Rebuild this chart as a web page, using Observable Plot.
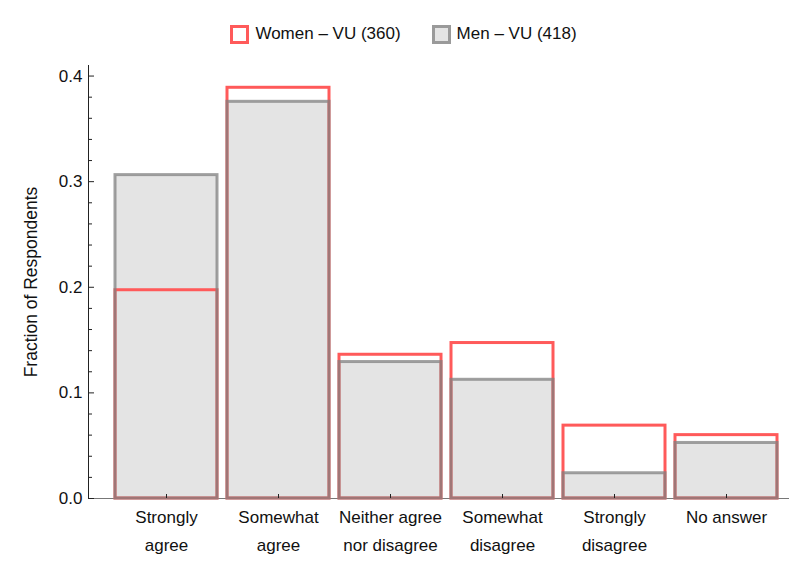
<!DOCTYPE html>
<html>
<head>
<meta charset="utf-8">
<script src="https://cdn.jsdelivr.net/npm/d3@7"></script>
<script src="https://cdn.jsdelivr.net/npm/@observablehq/plot@0.6"></script>
<style>
  body { margin: 0; background: #fff; font-family: "Liberation Sans", Arial, sans-serif; }
  #legend { height: 50px; display: flex; justify-content: center; align-items: flex-start; padding-left: 8px; box-sizing: border-box; }
  .item { display: flex; align-items: center; margin: 24px 15px 0 16px; font-size: 17px; color: #111; }
  .sw { width: 13px; height: 13px; border: 3px solid; margin-right: 6px; }
</style>
</head>
<body>
<div id="legend"></div>
<div id="chart"></div>
<script>
const categories = ["Strongly agree", "Somewhat agree", "Neither agree nor disagree", "Somewhat disagree", "Strongly disagree", "No answer"];
const tickLabels = ["Strongly\nagree", "Somewhat\nagree", "Neither agree\nnor disagree", "Somewhat\ndisagree", "Strongly\ndisagree", "No answer"];
const seriesNames = ["Women \u2013 VU (360)", "Men \u2013 VU (418)"];
const women = [0.1972, 0.3889, 0.1361, 0.1472, 0.0690, 0.0600];
const men = [0.3062, 0.3756, 0.1292, 0.1124, 0.0239, 0.0526];
const majorTicks = [0, 0.1, 0.2, 0.3, 0.4];
const minorTicks = d3.range(0, 0.41, 0.02).filter(v => Math.abs(Math.round(v * 10) - v * 10) > 1e-6);

const womenData = categories.map((c, i) => ({cat: c, value: women[i]}));
const menData = categories.map((c, i) => ({cat: c, value: men[i]}));
const labelOf = new Map(categories.map((c, i) => [c, tickLabels[i]]));

const RED = "#ff5a5a";
const GRAY = "#808080";
const FILL = "#e4e4e4";

// legend
const legend = document.getElementById("legend");
const swStyles = [{border: RED, bg: "#fff"}, {border: "#9a9a9a", bg: FILL}];
seriesNames.forEach((name, i) => {
  const it = document.createElement("div");
  it.className = "item";
  const sw = document.createElement("div");
  sw.className = "sw";
  sw.style.borderColor = swStyles[i].border;
  sw.style.background = swStyles[i].bg;
  it.appendChild(sw);
  const t = document.createElement("span");
  t.textContent = name;
  it.appendChild(t);
  legend.appendChild(it);
});

const chart = Plot.plot({
  width: 798,
  height: 521,
  marginTop: 15,
  marginLeft: 88,
  marginRight: 9,
  marginBottom: 73,
  style: {fontFamily: "'Liberation Sans', Arial, sans-serif", fontSize: "17px", color: "#111", background: "#fff"},
  x: {domain: categories, range: [110, 782], paddingInner: 0.09, paddingOuter: 0.045, label: null},
  y: {domain: [0, 0.41], label: null},
  marks: [
    Plot.ruleY([0], {stroke: "#777", strokeWidth: 1.2}),
    Plot.barY(menData, {x: "cat", y: "value", fill: FILL}),
    Plot.barY(womenData, {x: "cat", y: "value", fill: "none", stroke: RED, strokeWidth: 3}),
    Plot.barY(menData, {x: "cat", y: "value", fill: "none", stroke: GRAY, strokeOpacity: 0.75, strokeWidth: 3}),
    Plot.frame({anchor: "left", stroke: "#222", strokeWidth: 1}),
    Plot.axisY({ticks: majorTicks, tickSize: -6, tickPadding: 12, tickFormat: d3.format(".1f"), stroke: "#222", fontSize: 17, label: null}),
    Plot.axisY({ticks: minorTicks, tickSize: -4, tickFormat: () => "", stroke: "#222", label: null}),
    Plot.axisX({tickSize: -4, tickPadding: 9, tickFormat: d => labelOf.get(d), lineHeight: 1.62, stroke: "#222", fontSize: 17, label: null}),
    Plot.text(["Fraction of Respondents"], {frameAnchor: "left", textAnchor: "middle", rotate: -90, dx: -57, fontSize: 17.5, fill: "#111"})
  ]
});
document.getElementById("chart").appendChild(chart);
</script>
</body>
</html>
